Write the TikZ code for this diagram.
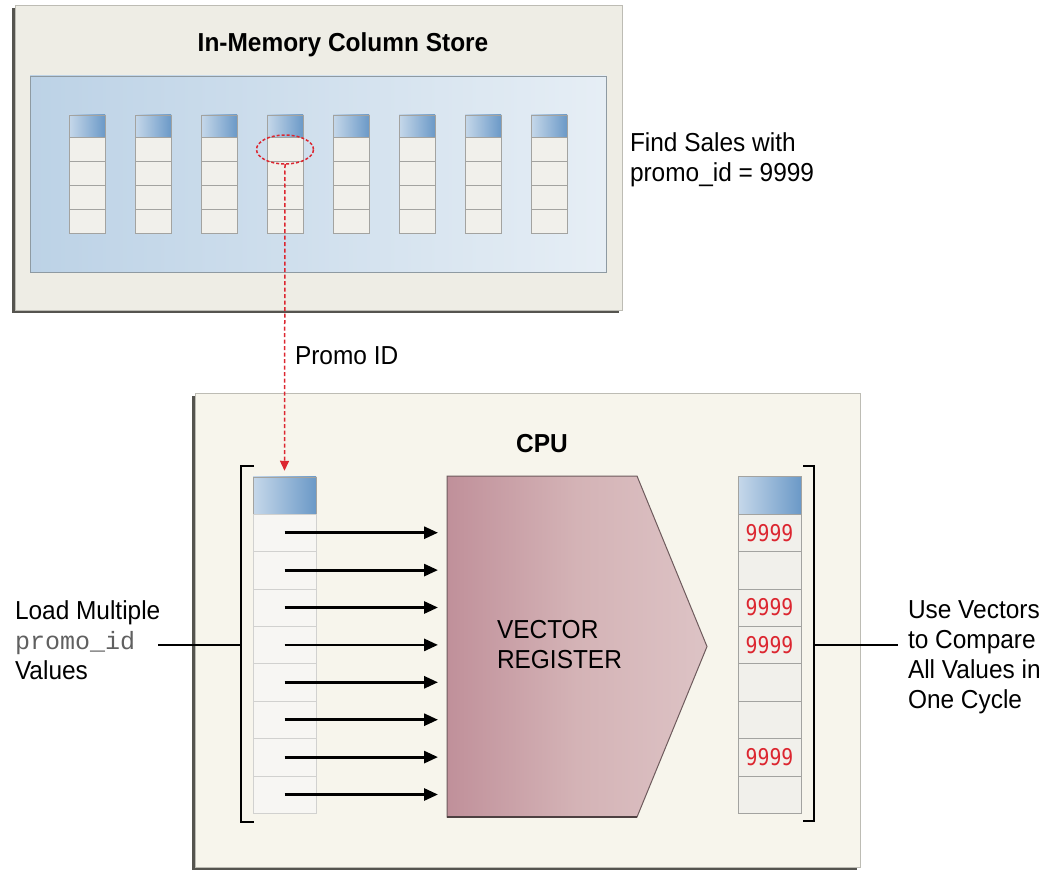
\documentclass[tikz,border=0pt]{standalone}
\usepackage{fontspec}
\setmainfont{Liberation Sans}[FakeStretch=0.94]
\setmonofont{Liberation Mono}
\newfontfamily\digitfont{DejaVu Sans Mono}[FakeStretch=0.86]
\usetikzlibrary{arrows.meta,positioning,shapes.geometric}

\definecolor{storefill}{HTML}{EEEDE5}
\definecolor{cpufill}{HTML}{F7F5EC}
\definecolor{boxedge}{HTML}{BDBCB4}
\definecolor{boxshadow}{HTML}{55544F}
\definecolor{paneldark}{HTML}{BCD2E6}
\definecolor{panellight}{HTML}{E6EEF5}
\definecolor{paneledge}{HTML}{8E9AA2}
\definecolor{headlight}{HTML}{C6D8EA}
\definecolor{headdark}{HTML}{6B99C7}
\definecolor{cellfill}{HTML}{F1F0EB}
\definecolor{celledge}{HTML}{A3A3A0}
\definecolor{regdark}{HTML}{C0909A}
\definecolor{regmid}{HTML}{D4B3B6}
\definecolor{reglight}{HTML}{DDC3C5}
\definecolor{regedge}{HTML}{6E5B5D}
\definecolor{hitred}{HTML}{DC2630}

\begin{document}
\begin{tikzpicture}[x=1pt,y=-1pt,
    every node/.style={inner sep=0pt,outer sep=0pt},
    txt/.style={font=\fontsize{26}{30}\selectfont,align=left},
    ttl/.style={font=\bfseries\fontsize{26}{30}\selectfont,anchor=base},
    colhead/.style={draw=celledge,line width=0.5pt,left color=headlight,right color=headdark,minimum width=36,minimum height=22},
    colcell/.style={draw=celledge,line width=0.5pt,fill=cellfill,minimum width=36,minimum height=24},
    reghead/.style={colhead,minimum width=63,minimum height=37.5},
    regcell/.style={colcell,minimum width=63,minimum height=37.4},
    bracket/.style={line width=2.2pt,black},
    feed/.style={line width=2.8pt,-{Triangle[length=14pt,width=12pt]},shorten >=9pt},
    lead/.style={line width=2.8pt},
    promo/.style={hitred,line width=1.5pt,dash pattern=on 4pt off 2.5pt,-{Triangle[length=10pt,width=9pt]},shorten >=6pt},
    hit/.style={font=\digitfont\fontsize{23}{23}\selectfont,text=hitred}]
    \useasboundingbox (0,0) rectangle (1054,872);

    % in-memory column store
    \fill[boxshadow] (12,8) rectangle (619,313);
    \filldraw[draw=boxedge,fill=storefill] (15,5) rectangle (622,310);
    \node[ttl] (storetitle) at (343,52) {In-Memory Column Store};
    \path[draw=paneledge,left color=paneldark,right color=panellight] (30,76) rectangle (606,272);

    %% columns
    \foreach \i in {1,...,8}{
        \node[colhead] (hd\i) at ({87+66*(\i-1)},126) {};
        \foreach \j in {1,...,4}
            \node[colcell] (c\i-\j) at ({87+66*(\i-1)},{125+24*\j}) {};
    }
    \node[draw=hitred,dash pattern=on 3pt off 2pt,line width=1.5pt,ellipse,minimum width=57,minimum height=29] (sel) at (285,149.5) {}; % selected value

    \node[txt,anchor=north west] (findtxt) at (630,133) {Find Sales with\\promo\_id = 9999};

    % cpu
    \fill[boxshadow] (192,396) rectangle (857,870);
    \filldraw[draw=boxedge,fill=cpufill] (195,393) rectangle (860,867);
    \node[ttl] (cputitle) at (542,452) {CPU};

    %% loaded values
    \node[reghead] (lhd) at (284.5,495.5) {};
    \foreach \j in {1,...,8}
        \node[regcell,fill=cellfill!60!white,draw=celledge!50] (lc\j) at (284.5,{495.3+37.4*\j}) {};

    %% compared values
    \node[reghead] (rhd) at (769.5,495) {};
    \foreach \j in {1,...,8}
        \node[regcell] (rc\j) at (769.5,{495.3+37.4*\j}) {};
    \foreach \j in {1,3,4,7}
        \node[hit] (hit\j) at (rc\j) {9999};

    %% vector register
    \node[minimum width=190,minimum height=341] (reg) at (542,646.5) {};
    \path[draw=regedge,line width=1pt,left color=regdark,right color=reglight,middle color=regmid] (reg.north west) -- (reg.north east) -- ([xshift=70pt]reg.east) -- (reg.south east) -- (reg.south west) -- cycle;
    \draw[regedge!70!black,line width=2pt] (reg.south west) -- (reg.south east);
    \node[txt,anchor=north west] (regtxt) at (497,620) {VECTOR\\REGISTER};

    \foreach \j in {1,...,8}
        \draw[feed] (lc\j.center) -- (lc\j.center -| reg.west);

    %% brackets
    \draw[bracket] (254,466) -- (241,466) -- (241,822) -- (254,822);
    \draw[bracket] (803,466) -- (814,466) -- (814,821) -- (803,821);
    \coordinate (lbr) at (241,645);
    \coordinate (rbr) at (814,645);
    \coordinate (lend) at (158,645);
    \coordinate (rend) at (898,645);

    % texts and notes
    \draw[promo] (sel.south) -- (lhd.north);
    \node[txt,anchor=base west] (promotxt) at (295,364) {Promo ID};

    \draw[lead] (lend) -- (lbr);
    \node[txt,anchor=north west] (loadtxt) at (15,601) {Load Multiple\\{\ttfamily\fontsize{25}{30}\selectfont\color{gray!75!black}promo\_id}\\Values};

    \draw[lead] (rbr) -- (rend);
    \node[txt,anchor=north west] (usetxt) at (908,601) {Use Vectors\\to Compare\\All Values in\\One Cycle};
\end{tikzpicture}
\end{document}
